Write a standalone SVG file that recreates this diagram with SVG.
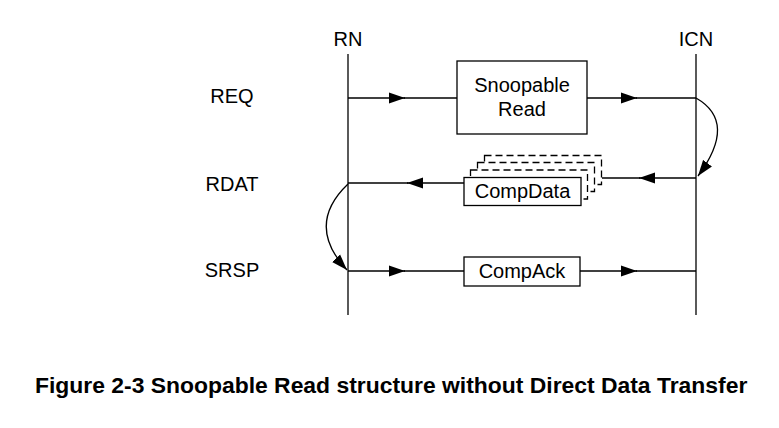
<svg xmlns="http://www.w3.org/2000/svg" xmlns:xlink="http://www.w3.org/1999/xlink" width="779" height="428" viewBox="0 0 779 428">
<style>
text{font-family:"Liberation Sans",Arial,Helvetica,sans-serif;fill:#000}
.lbl{font-size:20px;text-anchor:middle}
.box{fill:#fff;stroke:#000;stroke-width:1.3}
.dash{fill:#fff;stroke:#000;stroke-width:1.3;stroke-dasharray:7 4}
.ln{fill:none;stroke:#000;stroke-width:1.3}
.cap{font-size:22.9px;font-weight:bold}
</style>
<defs>
<marker id="ah" markerUnits="userSpaceOnUse" markerWidth="18" markerHeight="12" refX="16" refY="6" orient="auto">
<path d="M0,0.5 L16,6 L0,11.5 Z" fill="#000"/>
</marker>
</defs>
<rect width="779" height="428" fill="#fff"/>
<g id="lifelines">
<g id="RN"><text class="lbl" x="348" y="46">RN</text><line class="ln" x1="348" y1="54" x2="348" y2="315"/></g>
<g id="ICN"><text class="lbl" x="696" y="46">ICN</text><line class="ln" x1="696" y1="54" x2="696" y2="315"/></g>
</g>
<g id="channel-labels">
<text class="lbl" x="232" y="103">REQ</text>
<text class="lbl" x="232" y="191">RDAT</text>
<text class="lbl" x="232" y="277">SRSP</text>
</g>
<g id="connectors">
<line class="ln" x1="348" y1="98" x2="405" y2="98" marker-end="url(#ah)"/>
<line class="ln" x1="404" y1="98" x2="457" y2="98"/>
<line class="ln" x1="587" y1="98" x2="637" y2="98" marker-end="url(#ah)"/>
<line class="ln" x1="636" y1="98" x2="696" y2="98"/>
<line class="ln" x1="696" y1="178" x2="639" y2="178" marker-end="url(#ah)"/>
<line class="ln" x1="640" y1="178" x2="602" y2="178"/>
<line class="ln" x1="464" y1="183" x2="407" y2="183" marker-end="url(#ah)"/>
<line class="ln" x1="408" y1="183" x2="348" y2="183"/>
<line class="ln" x1="348" y1="271" x2="405" y2="271" marker-end="url(#ah)"/>
<line class="ln" x1="404" y1="271" x2="464" y2="271"/>
<line class="ln" x1="580" y1="271" x2="637" y2="271" marker-end="url(#ah)"/>
<line class="ln" x1="636" y1="271" x2="696" y2="271"/>
<path class="ln" d="M696,98 Q738,122 698,176" marker-end="url(#ah)"/>
<path class="ln" d="M348,184 Q305,225 347,270" marker-end="url(#ah)"/>
</g>
<g id="snoopable-read">
<rect class="box" x="457" y="61" width="130" height="73"/>
<text class="lbl" x="522" y="92">Snoopable</text>
<text class="lbl" x="522" y="116">Read</text>
</g>
<g id="compdata">
<rect class="dash" x="484.5" y="155.5" width="117" height="29"/>
<rect class="dash" x="477.5" y="162.5" width="117" height="29"/>
<rect class="dash" x="470.5" y="170" width="117" height="29"/>
<rect class="box" x="464" y="177.5" width="117" height="28"/>
<text class="lbl" x="522.5" y="198">CompData</text>
</g>
<g id="compack">
<rect class="box" x="464" y="257" width="116" height="29"/>
<text class="lbl" x="522" y="278">CompAck</text>
</g>
<text class="cap" x="35" y="393">Figure 2-3 Snoopable Read structure without Direct Data Transfer</text>
</svg>
